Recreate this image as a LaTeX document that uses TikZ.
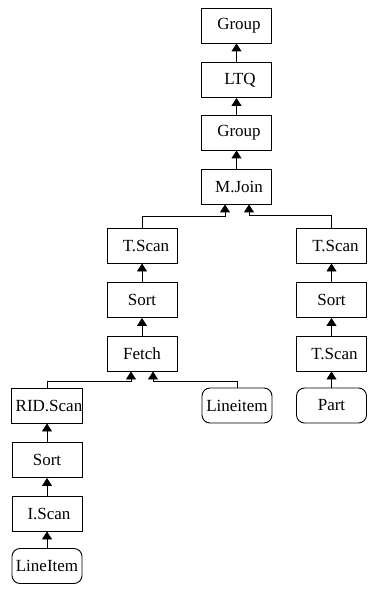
\documentclass[tikz,border=0pt]{standalone}
\usepackage{fontspec}
\setmainfont{Liberation Serif}
\usetikzlibrary{arrows.meta}
\begin{document}
\begin{tikzpicture}[x=1pt,y=-1pt,
  op/.style={draw, line width=0.9pt, minimum width=70pt, minimum height=35pt,
    inner sep=0pt, font=\fontsize{17}{19}\selectfont},
  rel/.style={op, rounded corners=8pt},
  flow/.style={line width=0.9pt, -{Triangle[width=10pt,length=8pt]}}]
\useasboundingbox (0,0) rectangle (372,593);
% main pipeline
\node[op] (g1)  at (236.5,25.5)  {\hspace{5pt}Group};
\node[op] (ltq) at (236.5,80)    {\hspace{7pt}LTQ};
\node[op] (g2)  at (236.5,132.5) {\hspace{5pt}Group};
\node[op] (mj)  at (236.5,186.5) {\hspace{5pt}M.Join};
% left input of the merge join
\node[op] (ts1) at (142,245.5) {\hspace{8pt}T.Scan};
\node[op] (so1) at (142,300)   {Sort};
\node[op] (fe)  at (142,353.5) {Fetch};
\node[op] (rid) at (47,405.5)  {\hspace{4pt}RID.Scan};
\node[op] (so3) at (47,460)    {Sort};
\node[op] (isc) at (47,513.5)  {\hspace{4pt}I.Scan};
\node[rel] (li2) at (47,566)   {LineItem};
\node[rel] (li1) at (237,405.5) {Lineitem};
% right input of the merge join
\node[op] (ts2) at (331.5,245.5) {\hspace{8pt}T.Scan};
\node[op] (so2) at (331.5,300)   {Sort};
\node[op] (ts3) at (331.5,353.5) {\hspace{6pt}T.Scan};
\node[rel] (part) at (331.5,405.5) {Part};
% straight edges
\draw[flow] (ltq) -- (g1);
\draw[flow] (g2) -- (ltq);
\draw[flow] (mj) -- (g2);
\draw[flow] (so1) -- (ts1);
\draw[flow] (fe) -- (so1);
\draw[flow] (so3) -- (rid);
\draw[flow] (isc) -- (so3);
\draw[flow] (li2) -- (isc);
\draw[flow] (so2) -- (ts2);
\draw[flow] (ts3) -- (so2);
\draw[flow] (part) -- (ts3);
% elbow edges into the binary operators
\draw[flow] (ts1.north) |- ([xshift=-11.5pt]mj.south |- 0,216) -- ([xshift=-11.5pt]mj.south);
\draw[flow] (ts2.north) |- ([xshift=12.5pt]mj.south |- 0,215.5) -- ([xshift=12.5pt]mj.south);
\draw[flow] (rid.north) |- ([xshift=-11pt]fe.south |- 0,381.5) -- ([xshift=-11pt]fe.south);
\draw[flow] (li1.north) |- ([xshift=11pt]fe.south |- 0,381.5) -- ([xshift=11pt]fe.south);
\end{tikzpicture}
\end{document}
